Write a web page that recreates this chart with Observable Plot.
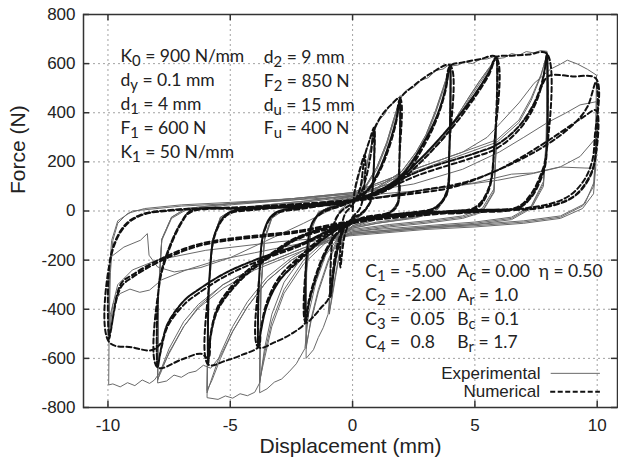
<!DOCTYPE html>
<html><head><meta charset="utf-8">
<script src="https://cdn.jsdelivr.net/npm/d3@7"></script>
<script src="https://cdn.jsdelivr.net/npm/@observablehq/plot@0.6"></script>
<style>
html,body{margin:0;padding:0;background:#fff;}
</style></head><body><div id="chart"></div>
<script>
// ---- axes ----
const xTicks = [-10, -5, 0, 5, 10];
const yTicks = [-800, -600, -400, -200, 0, 200, 400, 600, 800];

// ---- annotation texts ----
const paramsLeft = ["K_0 = 900 N/mm", "d_y = 0.1 mm", "d_1 = 4 mm", "F_1 = 600 N", "K_1 = 50 N/mm"];
const paramsMid = ["d_2 = 9 mm", "F_2 = 850 N", "d_u = 15 mm", "F_u = 400 N"];
const paramsC = ["C_1 = -5.00", "C_2 = -2.00", "C_3 = \u20040.05", "C_4 = \u20040.8"];
const paramsAB = ["A_c = 0.00", "A_r = 1.0", "B_c = 0.1", "B_r = 1.7"];
const paramsEta = ["\u03b7 = 0.50"];
const legendNames = ["Experimental", "Numerical"];

// ---- numerical model (displacement mm, force N) ----
const num1 = [
[0,0],[0.1,90],[0.3,170],[0.5,230],[0.46,80],[0.3,10],[0,-25],[-0.3,-90],[-0.5,-230],
[-0.46,-80],[-0.3,-10],[0,25],[0.3,90],[0.5,225],[0.7,290],[0.88,340],
[0.85,150],[0.72,40],[0.4,-5],[0,-30],[-0.3,-60],[-0.55,-130],[-0.75,-230],[-0.9,-350],
[-0.86,-150],[-0.72,-40],[-0.4,5],[0,30],[0.3,65],[0.55,135],[0.75,235],[0.88,335],
[0.85,140],[0.72,35],[0.4,-8],[0,-35],[-0.3,-65],[-0.55,-135],[-0.75,-235],[-0.9,-345]
];
const num2 = [
[-0.86,-150],[-0.72,-40],[-0.4,5],[0,30],[0.3,65],[0.55,135],[0.75,235],[0.88,330],[1.2,390],[1.55,430],[1.93,460],
[1.91,200],[1.87,40],[1.6,0],[1,-20],[0,-45],[-0.4,-80],[-0.7,-170],[-0.85,-290],[-1.0,-360],[-1.3,-395],[-1.6,-430],[-1.91,-455],
[-1.87,-180],[-1.65,-50],[-1.2,-5],[-0.5,20],[0,40],[0.6,80],[1.1,160],[1.5,260],[1.8,370],[1.93,455],
[1.9,160],[1.85,30],[1.5,-5],[0.5,-25],[0,-45],[-0.6,-85],[-1.1,-160],[-1.5,-260],[-1.8,-370],[-1.91,-450],
[-1.87,-170],[-1.63,-45],[-1.2,0],[-0.5,25],[0,45],[0.6,85],[1.1,170],[1.5,275],[1.8,380],[1.93,450],
[1.9,150],[1.84,25],[1.5,-8],[0.5,-30],[0,-50],[-0.6,-90],[-1.1,-170],[-1.5,-270],[-1.8,-380],[-1.91,-445]
];
const num4 = [
[-1.87,-170],[-1.63,-45],[-1.2,0],[-0.5,25],[0,45],[0.6,85],[1.1,170],[1.5,275],[1.8,380],[1.93,455],[2.5,510],[3.2,560],[3.98,593],
[3.95,250],[3.85,80],[3.4,15],[2.5,-5],[1,-25],[0,-45],[-0.6,-90],[-1.1,-170],[-1.5,-275],[-1.8,-385],[-1.91,-452],[-2.5,-500],[-3.2,-535],[-3.85,-555],
[-3.8,-250],[-3.6,-80],[-3.2,-15],[-2,10],[0,40],[1,70],[2,130],[3,280],[3.5,390],[3.8,490],[3.98,590],
[3.95,240],[3.85,75],[3.3,10],[2,-10],[0,-40],[-1,-90],[-2.1,-180],[-3.0,-270],[-3.5,-370],[-3.75,-480],[-3.85,-552],
[-3.8,-240],[-3.6,-75],[-3.2,-10],[-2,15],[0,45],[1,80],[2,145],[3,295],[3.5,400],[3.8,500],[3.98,588],
[3.95,230],[3.85,70],[3.3,5],[2,-15],[0,-45],[-1,-100],[-2.1,-195],[-3.0,-285],[-3.5,-385],[-3.75,-490],[-3.85,-550]
];
const num6 = [
[-3.8,-240],[-3.6,-75],[-3.2,-10],[-2,15],[0,45],[1,80],[2,145],[3,295],[3.5,400],[3.8,500],[3.98,590],[4.5,605],[5.2,618],[5.86,627],
[5.8,280],[5.55,90],[5,15],[3.5,-5],[2,-15],[0,-45],[-1,-100],[-2.1,-190],[-3.0,-285],[-3.5,-385],[-3.75,-490],[-3.85,-553],[-4.5,-585],[-5.2,-610],[-5.9,-625],
[-5.85,-280],[-5.6,-90],[-5.1,-15],[-4,5],[-2,20],[0,40],[1.5,90],[2.8,200],[4.16,350],[5.1,478],[5.6,560],[5.86,627],
[5.8,270],[5.55,85],[5,10],[3.5,-8],[2,-20],[0,-45],[-2.25,-106],[-3.34,-174],[-4.29,-241],[-4.97,-309],[-5.52,-391],[-5.8,-499],[-5.9,-622],
[-5.85,-270],[-5.6,-85],[-5.1,-10],[-4,10],[-2,25],[0,45],[1.5,100],[2.8,215],[4.16,365],[5.1,490],[5.6,570],[5.86,624],
[5.8,260],[5.55,80],[5,5],[3.5,-12],[2,-25],[0,-50],[-2.25,-115],[-3.34,-185],[-4.29,-255],[-4.97,-325],[-5.52,-405],[-5.8,-510],[-5.9,-620]
];
const num8 = [
[-5.85,-270],[-5.6,-85],[-5.1,-10],[-4,10],[-2,25],[0,45],[1.5,100],[2.8,215],[4.16,365],[5.1,490],[5.6,570],[5.86,625],[6.5,632],[7.2,637],[7.94,641],
[7.9,220],[7.7,150],[7.3,70],[6.74,16],[5,0],[2,-10],[0,-40],[-2.25,-110],[-3.34,-180],[-4.29,-250],[-4.97,-320],[-5.52,-400],[-5.8,-505],[-5.9,-600],[-6.2,-581],[-7.0,-605],[-7.97,-637],
[-7.9,-300],[-7.56,-174],[-7.0,-50],[-6.61,-4],[-4,10],[0,40],[2.8,150],[5.0,220],[5.9,255],[6.8,330],[7.4,420],[7.7,500],[7.85,570],[7.94,641],
[7.9,210],[7.7,140],[7.3,60],[6.74,12],[5,-2],[2,-12],[0,-40],[-2.1,-133],[-4,-200],[-5.25,-255],[-6.3,-320],[-6.88,-364],[-7.56,-459],[-7.85,-570],[-7.97,-638],
[-7.9,-290],[-7.56,-165],[-7.0,-45],[-6.61,0],[-4,12],[0,45],[2.8,165],[5.0,235],[5.9,270],[6.8,345],[7.4,435],[7.7,510],[7.85,575],[7.94,638],
[7.9,200],[7.7,130],[7.3,55],[6.74,10],[5,-5],[2,-15],[0,-45],[-2.1,-140],[-4,-210],[-5.25,-268],[-6.3,-335],[-6.88,-380],[-7.56,-470],[-7.85,-575],[-7.97,-635]
];
const num10 = [
[-7.9,-290],[-7.56,-165],[-7.0,-45],[-6.61,0],[-4,12],[0,45],[2.8,165],[5.0,235],[5.9,270],[6.8,345],[7.4,435],[7.7,500],[7.9,540],[8.1,553],[9,548],[9.95,539],
[9.9,300],[9.8,206],[9.46,125],[8.78,57],[7.42,16],[4,0],[0,-40],[-2.1,-133],[-4,-200],[-5.25,-255],[-6.3,-320],[-6.88,-364],[-7.56,-459],[-7.85,-540],[-8.24,-567],[-9,-555],[-9.95,-534],
[-9.88,-187],[-9.33,-65],[-8.65,-18],[-7.3,3],[-4,15],[0,40],[2.8,84],[4.83,124],[7.56,247],[9.0,350],[9.6,424],[9.95,525],
[9.9,206],[9.6,125],[9.0,57],[7.8,16],[4,0],[0,-40],[-2.1,-79],[-6.2,-133],[-7.97,-201],[-9.0,-260],[-9.47,-296],[-9.88,-486],[-9.95,-520],
[-9.88,-180],[-9.33,-60],[-8.65,-15],[-7.3,5],[-4,18],[0,45],[2.8,75],[4.14,98],[6,170],[7.42,250],[8.5,320],[9.4,380],[9.95,410],
[9.9,200],[9.6,120],[9.0,55],[7.8,14],[4,-2],[0,-42],[-2.1,-85],[-6.2,-140],[-7.97,-210],[-9.0,-270],[-9.47,-310],[-9.88,-480],[-9.95,-510]
];

// ---- experimental record (displacement mm, force N) ----
const exp1 = [
[0,0],[0.1,80],[0.3,160],[0.5,230],[0.7,290],[0.9,335],
[0.87,150],[0.75,40],[0.5,0],[0.2,-25],[0,-40],[-0.3,-80],[-0.5,-150],[-0.7,-260],[-0.85,-350],[-0.95,-420],
[-0.9,-200],[-0.78,-60],[-0.5,0],[-0.2,20],[0,40],[0.3,80],[0.5,150],[0.7,240],[0.9,330],
[0.86,140],[0.74,35],[0.5,-5],[0.2,-30],[0,-45],[-0.3,-90],[-0.5,-160],[-0.7,-270],[-0.85,-360],[-0.95,-410]
];
const exp2 = [
[-0.9,-190],[-0.78,-55],[-0.5,5],[0,45],[0.3,85],[0.5,150],[0.7,240],[0.9,330],[1.1,372],[1.3,392],[1.5,428],[1.7,442],[1.95,470],
[1.92,200],[1.85,40],[1.6,-5],[1.2,-25],[0.6,-40],[0,-60],[-0.4,-100],[-0.7,-180],[-0.9,-300],[-1.0,-420],[-1.2,-475],[-1.4,-515],[-1.6,-565],[-1.9,-600],
[-1.88,-250],[-1.7,-80],[-1.4,-10],[-1,15],[-0.5,30],[0,50],[0.5,90],[1,170],[1.4,270],[1.7,370],[1.95,460],
[1.92,180],[1.85,35],[1.5,-10],[0.8,-35],[0,-60],[-0.6,-110],[-1,-200],[-1.4,-320],[-1.7,-440],[-1.9,-560],
[-1.88,-230],[-1.7,-70],[-1.4,-5],[-0.5,35],[0,55],[0.5,95],[1,180],[1.4,280],[1.7,380],[1.95,455],
[1.92,170],[1.85,30],[1.5,-12],[0.8,-40],[0,-65],[-0.6,-120],[-1,-210],[-1.4,-330],[-1.7,-450],[-1.9,-550]
];
const exp4 = [
[-1.88,-230],[-1.7,-70],[-1.4,-5],[-0.5,35],[0,55],[0.5,95],[1,180],[1.4,280],[1.7,380],[1.95,460],[2.2,492],[2.5,503],[2.8,532],[3.1,543],[3.4,572],[3.7,578],[4.0,600],
[3.97,260],[3.9,80],[3.5,10],[3,-15],[2,-35],[1,-50],[0,-70],[-0.6,-110],[-1.1,-180],[-1.5,-290],[-1.8,-420],[-1.95,-560],[-2.3,-622],[-2.6,-655],[-2.9,-684],[-3.2,-697],[-3.5,-724],[-3.8,-740],
[-3.75,-330],[-3.6,-120],[-3.3,-30],[-2.8,5],[-2,20],[-1,35],[0,55],[1,90],[2,150],[2.6,230],[3,300],[3.4,400],[3.7,490],[4.0,595],
[3.97,240],[3.88,70],[3.4,0],[2.5,-25],[1,-45],[0,-65],[-1,-110],[-2,-200],[-2.8,-320],[-3.3,-450],[-3.6,-580],[-3.8,-700],
[-3.75,-320],[-3.6,-110],[-3.3,-25],[-2.8,10],[-2,25],[-1,40],[0,60],[1,95],[2,160],[2.6,240],[3,310],[3.4,410],[3.7,500],[4.0,590],
[3.97,230],[3.88,65],[3.4,-5],[2.5,-30],[1,-50],[0,-70],[-1,-120],[-2,-215],[-2.8,-335],[-3.3,-470],[-3.6,-600],[-3.8,-690]
];
const exp6 = [
[-3.75,-320],[-3.6,-110],[-3.3,-25],[-2.8,10],[-2,25],[-1,40],[0,60],[1,95],[2,160],[2.6,240],[3,310],[3.4,410],[3.7,500],[4.0,590],[4.3,594],[4.6,607],[4.9,600],[5.2,617],[5.5,619],[5.9,632],
[5.87,280],[5.78,90],[5.3,10],[4.5,-20],[3,-40],[1.5,-55],[0,-75],[-1,-110],[-2,-180],[-2.8,-290],[-3.3,-420],[-3.6,-560],[-3.8,-700],[-4.0,-738],[-4.3,-752],[-4.6,-744],[-4.9,-762],[-5.2,-753],[-5.5,-767],[-5.95,-760],
[-5.9,-350],[-5.75,-130],[-5.4,-30],[-4.8,5],[-3.5,20],[-2,35],[0,60],[1.5,100],[2.8,200],[3.7,290],[4.3,380],[4.8,460],[5.2,520],[5.6,580],[5.9,625],
[5.87,260],[5.78,80],[5.3,0],[4.5,-25],[3,-45],[1.5,-60],[0,-80],[-1.5,-130],[-2.5,-190],[-3.5,-270],[-4.3,-370],[-4.9,-470],[-5.4,-580],[-5.75,-680],[-5.95,-740],
[-5.9,-340],[-5.75,-125],[-5.4,-25],[-4.8,10],[-3.5,25],[-2,40],[0,65],[1.5,110],[2.8,210],[3.7,300],[4.3,390],[4.8,470],[5.2,530],[5.6,585],[5.9,620],
[5.87,250],[5.78,75],[5.3,-5],[4.5,-30],[3,-50],[1.5,-65],[0,-85],[-1.5,-140],[-2.5,-200],[-3.5,-285],[-4.3,-390],[-4.9,-490],[-5.4,-600],[-5.75,-690],[-5.95,-730]
];
const exp8 = [
[-5.9,-340],[-5.75,-125],[-5.4,-25],[-4.8,10],[-3.5,25],[-2,40],[0,65],[1.5,110],[2.8,210],[3.7,300],[4.3,390],[4.8,470],[5.2,530],[5.6,585],[5.9,620],[6.2,624],[6.5,641],[6.8,634],[7.1,649],[7.4,644],[7.7,653],[7.95,650],
[7.92,300],[7.8,120],[7.3,20],[6.5,-25],[5,-45],[3,-60],[1,-75],[0,-85],[-1.5,-140],[-2.5,-200],[-3.5,-285],[-4.3,-390],[-4.9,-490],[-5.4,-590],[-5.8,-640],[-6.1,-628],[-6.4,-652],[-6.7,-659],[-7.0,-677],[-7.3,-668],[-7.6,-692],[-7.97,-700],
[-7.93,-330],[-7.8,-120],[-7.4,-30],[-6.8,5],[-5,25],[-2.5,45],[0,70],[2.8,170],[4.5,230],[5.9,280],[6.8,360],[7.3,450],[7.7,550],[7.95,640],
[7.92,280],[7.8,110],[7.3,15],[6.5,-30],[5,-50],[3,-65],[0,-90],[-2,-150],[-4,-230],[-5.3,-300],[-6.3,-380],[-6.9,-450],[-7.5,-560],[-7.85,-650],[-7.97,-690],
[-7.93,-320],[-7.8,-115],[-7.4,-25],[-6.8,10],[-5,30],[-2.5,50],[0,75],[2.8,180],[4.5,240],[5.9,290],[6.8,370],[7.3,460],[7.7,555],[7.95,635],
[7.92,270],[7.8,100],[7.3,10],[6.5,-35],[5,-55],[3,-70],[0,-95],[-2,-160],[-4,-240],[-5.3,-315],[-6.3,-395],[-6.9,-470],[-7.5,-575],[-7.85,-660],[-7.97,-685]
];
const exp10 = [
[-7.93,-320],[-7.8,-115],[-7.4,-25],[-6.8,10],[-5,30],[-2.5,50],[0,75],[2.8,180],[4.5,240],[5.5,300],[6.06,360],[6.8,440],[7.42,520],[8.1,578],[8.5,598],[8.78,614],[9.2,598],[9.6,577],[9.97,553],
[9.94,300],[9.88,120],[9.5,30],[8.5,-20],[7,-40],[5,-55],[3,-65],[0,-90],[-2,-150],[-4,-230],[-5.3,-300],[-6.3,-390],[-6.9,-470],[-7.5,-580],[-7.9,-660],[-8.1,-688],[-8.3,-702],[-8.6,-688],[-8.9,-711],[-9.2,-699],[-9.5,-716],[-9.8,-704],[-9.97,-708],
[-9.95,-450],[-9.9,-250],[-9.8,-120],[-9.6,-50],[-9.2,-10],[-8.5,10],[-7,25],[-5,35],[-2.5,50],[0,70],[2.5,110],[4.5,170],[6,240],[7,300],[8,362],[8.7,398],[9.3,432],[9.97,445],
[9.94,250],[9.85,100],[9.4,20],[8.5,-25],[7,-45],[5,-60],[3,-70],[0,-95],[-2,-130],[-4,-170],[-5.5,-200],[-6.8,-240],[-7.8,-280],[-8.3,-322],[-8.7,-331],[-9.1,-318],[-9.5,-336],[-9.8,-380],[-9.97,-520],
[-9.95,-300],[-9.88,-187],[-9.35,-147],[-8.67,-119],[-8.39,-92],[-8.32,-180],[-7.97,-228],[-7.29,-248],[-6.2,-230],[-5,-190],[-3.5,-120],[-2,-50],[-1,0],[0,40],[2.5,80],[5,115],[6.5,150],[7.4,155],[8.5,180],[9.3,222],[9.97,300],
[9.94,180],[9.85,70],[9.4,10],[8.5,-30],[7,-50],[5,-65],[3,-75],[0,-100],[-3,-125],[-6,-160],[-8,-200],[-9,-240],[-9.6,-300],[-9.9,-420],[-9.97,-520],
[-9.95,-260],[-9.85,-120],[-9.6,-40],[-9,0],[-7,20],[-4,35],[0,60],[3,85],[5.92,125],[7.4,153],[8.5,179],[9.5,175],[9.94,174]
];

const numerical = [...num1, ...num2, ...num4, ...num6, ...num8, ...num10].map(([x, F]) => ({x, F}));
const experimental = [...exp1, ...exp2, ...exp4, ...exp6, ...exp8, ...exp10].map(([x, F]) => ({x, F}));

const axFont = "'Liberation Sans', Arial, sans-serif";
const annFont = "Lato, 'Open Sans', sans-serif";
const hyphenFormat = d => String(d);
const annStyle = {textAnchor: "start", lineAnchor: "middle", lineHeight: 1.36, fontSize: 17.5, fontFamily: annFont, fill: "#222"};
const plot = Plot.plot({
  width: 618, height: 465,
  marginLeft: 83, marginRight: 1, marginTop: 14, marginBottom: 58,
  x: {domain: [-11, 10.83]},
  y: {domain: [-800, 800]},
  style: {fontFamily: axFont, fontSize: "17px", color: "#222", background: "#fff"},
  marks: [
    Plot.gridX(xTicks, {stroke: "#8a8a8a", strokeOpacity: 1, strokeWidth: 0.8, strokeDasharray: "2,3"}),
    Plot.gridY(yTicks.slice(1, -1), {stroke: "#8a8a8a", strokeOpacity: 1, strokeWidth: 0.8, strokeDasharray: "2,3"}),
    Plot.line(experimental, {x: "x", y: "F", stroke: "#6a6a6a", strokeWidth: 1, curve: "linear"}),
    Plot.line(numerical, {x: "x", y: "F", stroke: "#111", strokeWidth: 2, strokeDasharray: "5,3", curve: "catmull-rom"}),
    Plot.frame({stroke: "#333", strokeWidth: 1.5}),
    Plot.ruleX(xTicks, {y1: -800, y2: -775, stroke: "#333", strokeWidth: 1.5}),
    Plot.ruleX(xTicks, {y1: 775, y2: 800, stroke: "#333", strokeWidth: 1.5}),
    Plot.ruleY(yTicks, {x1: -11, x2: -10.75, stroke: "#333", strokeWidth: 1.5}),
    Plot.ruleY(yTicks, {x1: 10.58, x2: 10.83, stroke: "#333", strokeWidth: 1.5}),
    Plot.axisX(xTicks, {tickSize: 0, tickPadding: 11, fontSize: 17, fontFamily: axFont, label: null, tickFormat: hyphenFormat}),
    Plot.axisY(yTicks, {tickSize: 0, tickPadding: 8, fontSize: 17, fontFamily: axFont, label: null, tickFormat: hyphenFormat}),
    Plot.text(["Displacement (mm)"], {frameAnchor: "bottom", dy: 45, fontSize: 21, fontFamily: axFont}),
    Plot.text(["Force (N)"], {frameAnchor: "left", dx: -65, dy: -17, rotate: -90, fontSize: 21, fontFamily: axFont}),
    // parameter blocks
    Plot.text([paramsLeft.join("\n")], {x: -9.49, y: 442, ...annStyle}),
    Plot.text([paramsMid.join("\n")], {x: -3.63, y: 488, ...annStyle}),
    Plot.text([paramsC.join("\n")], {x: 0.52, y: -383, ...annStyle}),
    Plot.text([paramsAB.join("\n")], {x: 4.28, y: -383, ...annStyle}),
    Plot.text(paramsEta, {x: 7.61, y: -238, ...annStyle}),
    // legend
    Plot.text([legendNames[0]], {x: 7.68, y: -661, textAnchor: "end", fontSize: 17, fontFamily: axFont, fill: "#222"}),
    Plot.text([legendNames[1]], {x: 7.66, y: -735, textAnchor: "end", fontSize: 17, fontFamily: axFont, fill: "#222"}),
    Plot.ruleY([-661], {x1: 8.12, x2: 10.13, stroke: "#6a6a6a", strokeWidth: 1}),
    Plot.ruleY([-736], {x1: 8.1, x2: 10.13, stroke: "#111", strokeWidth: 2, strokeDasharray: "5,2.5"})
  ]
});

// subscripts: "X_s" -> X with lowered small s
function applySubscripts(node) {
  const s = node.textContent;
  if (!s.includes("_")) return;
  const parts = s.split(/_(.)/);
  node.textContent = "";
  const ns = "http://www.w3.org/2000/svg";
  for (let i = 0; i < parts.length; i++) {
    if (parts[i] === "") continue;
    const t = document.createElementNS(ns, "tspan");
    t.textContent = parts[i];
    if (i % 2 === 1) { t.setAttribute("dy", "4"); t.setAttribute("font-size", "85%"); }
    else if (i > 0) { t.setAttribute("dy", "-4"); }
    node.appendChild(t);
  }
}
plot.querySelectorAll("text").forEach(t => {
  const lines = t.querySelectorAll("tspan");
  if (lines.length) lines.forEach(applySubscripts); else applySubscripts(t);
});
document.getElementById("chart").appendChild(plot);
</script>
</body></html>
